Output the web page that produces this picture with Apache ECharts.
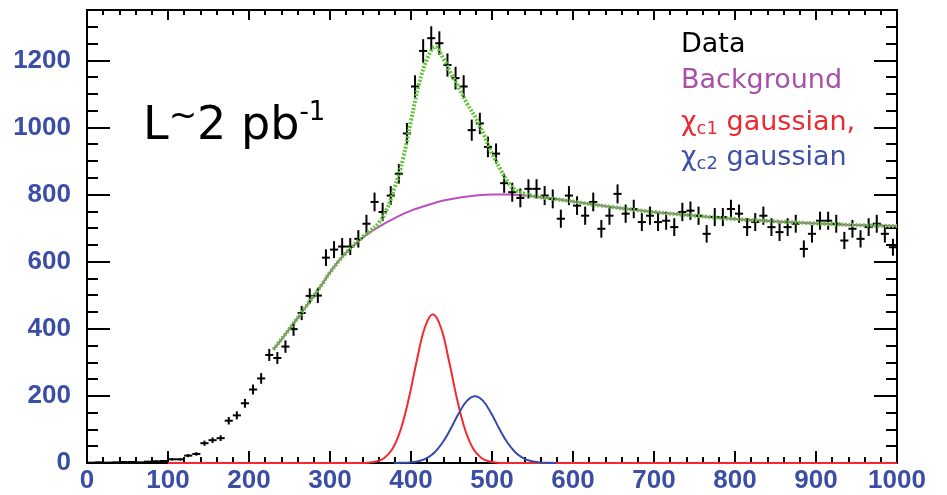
<!DOCTYPE html>
<html>
<head>
<meta charset="utf-8">
<script src="https://cdn.jsdelivr.net/npm/echarts@6/dist/echarts.min.js"></script>
<style>html,body{margin:0;padding:0;background:#fff;}#c{width:947px;height:495px;}</style>
</head>
<body>
<div id="c"></div>
<script>
// ---- data ----
var binCenters = [5,15,25,35,45,55,65,75,85,95,105,115,125,135,145,155,165,175,185,195,
  205,215,225,235,245,255,265,275,285,295,305,315,325,335,345,355,365,375,385,395,
  405,415,425,435,445,455,465,475,485,495,505,515,525,535,545,555,565,575,585,595,
  605,615,625,635,645,655,665,675,685,695,705,715,725,735,745,755,765,775,785,795,
  805,815,825,835,845,855,865,875,885,895,905,915,925,935,945,955,965,975,985,995];
var counts = [1,2,1,2,3,3,2,4,5,6,
  11,11,22,27,59,68,74,126,142,178,
  219,252,322,313,347,399,447,498,499,612,
  636,645,645,668,713,778,748,797,862,982,
  1122,1228,1266,1251,1186,1147,1122,992,1012,942,
  922,834,807,790,817,817,797,787,728,797,
  767,737,778,698,737,802,743,757,718,737,
  718,722,703,748,752,737,683,733,733,757,
  743,703,718,737,703,688,703,713,638,683,
  722,722,713,663,698,668,703,713,683,643];
var binHalfWidth = 5;

var bgX = [230,240,250,260,270,280,290,300,310,320,330,340,350,360,380,400,420,440,460,480,500,520,540,560,580,600,650,700,750,800,850,900,950,1000];
var bgY = [338,368,400,432,465,498,532,568,600,627,650,671,688,704,730,752,768,782,791,797,800,800,797,792,786,779,762,748,737,727,720,714,709,706];

var totX = [230,250,270,290,300,320,340,350,360,370,380,390,400,410,420,430,440,450,460,470,480,490,500,510,520,530,540,550,560,580,600,650,700,750,800,850,900,950,1000];
var totY = [338,400,465,532,568,627,673,692,715,755,822,905,1020,1130,1205,1240,1205,1158,1114,1068,1028,978,922,877,835,812,803,796,792,786,779,762,748,737,727,720,714,709,706];

var c1X = [100,327,337,347,357,367,377,387,397,407,417,427,437,447,457,467,477,487,497,507,517,527,1000];
var c1Y = [0,0,0.2,1.0,4.3,14.8,41.7,97.7,189,303,403,443,403,303,189,97.7,41.7,14.8,4.3,1.0,0.2,0,0];

var c2X = [379,389,399,409,419,429,439,449,459,469,479,489,499,509,519,529,539,549,559,569,579];
var c2Y = [0.1,0.5,1.8,5.3,13.9,31.4,61,102,148,185,199,185,148,102,61,31.4,13.9,5.3,1.8,0.5,0.1];

var xTicks = {min:0, max:1000, interval:100};
var yTicks = {min:0, max:1350, interval:200, minorInterval:50};

// ---- build ----
function pairs(xs, ys){ var o=[]; for(var i=0;i<xs.length;i++) o.push([xs[i], ys[i]]); return o; }
var dataPts = [];
for (var i=0;i<binCenters.length;i++) dataPts.push([binCenters[i], counts[i], Math.sqrt(counts[i])]);

var labBlue = '#3b4ea6';
var chart = echarts.init(document.getElementById('c'));

function xAx(pos, show, majLen, minLen){
  return {type:'value', position:pos, min:xTicks.min, max:xTicks.max, interval:xTicks.interval,
    axisLine:{show:true, onZero:false, lineStyle:{color:'#000', width:2}},
    axisTick:{show:true, inside:true, length:majLen, lineStyle:{color:'#000', width:2}},
    minorTick:{show:true, splitNumber:5, length:minLen, lineStyle:{color:'#000', width:2}},
    splitLine:{show:false}, minorSplitLine:{show:false},
    axisLabel:{show:show, margin:5, color:labBlue, fontSize:26, fontWeight:'bold', fontFamily:'Liberation Sans',
      formatter:function(v){ return String(v); }}};
}
function yAx(pos, show, interval, len, line){
  return {type:'value', position:pos, min:yTicks.min, max:yTicks.max, interval:interval,
    axisLine:{show:line, onZero:false, lineStyle:{color:'#000', width:2}},
    axisTick:{show:true, inside:true, length:len, lineStyle:{color:'#000', width:2}},
    splitLine:{show:false},
    axisLabel:{show:show, margin:16, color:labBlue, fontSize:26, fontWeight:'bold', fontFamily:'Liberation Sans',
      formatter:function(v){ return (v % 200 === 0) ? String(v) : ''; }}};
}

var option = {
  backgroundColor:'#fff',
  animation:false,
  grid:{left:87, right:50, top:10, bottom:32},
  xAxis:[xAx('bottom', true, 12, 6), xAx('top', false, 10, 5)],
  yAxis:[yAx('left', true, yTicks.interval, 23, true), yAx('right', false, yTicks.interval, 23, true),
         yAx('left', false, yTicks.minorInterval, 11, false), yAx('right', false, yTicks.minorInterval, 11, false)],
  series:[
    {name:'Background', type:'line', data:pairs(bgX,bgY), smooth:0.4, showSymbol:false, clip:false, z:3,
      lineStyle:{color:'#bb4fbb', width:2}},
    {name:'chi_c1', type:'line', data:pairs(c1X,c1Y), smooth:0.4, showSymbol:false, clip:false, z:3,
      lineStyle:{color:'#f5282d', width:2}},
    {name:'chi_c2', type:'line', data:pairs(c2X,c2Y), smooth:0.4, showSymbol:false, clip:false, z:3,
      lineStyle:{color:'#3448a8', width:2}},
    {name:'Data', type:'custom', data:dataPts, encode:{x:0, y:1}, z:4,
      renderItem:function(params, api){
        var x = api.value(0), y = api.value(1), e = api.value(2);
        var c = api.coord([x, y]);
        var t = api.coord([x, y + e]);
        var b = api.coord([x, Math.max(0, y - e)]);
        var l = api.coord([x - binHalfWidth, y]);
        var r = api.coord([x + binHalfWidth, y]);
        return {type:'group', children:[
          {type:'line', shape:{x1:c[0], y1:t[1], x2:c[0], y2:b[1]}, style:{stroke:'#000', lineWidth:2}},
          {type:'line', shape:{x1:l[0], y1:c[1], x2:r[0], y2:c[1]}, style:{stroke:'#000', lineWidth:2}}
        ]};
      }},
    {name:'Total fit', type:'line', data:pairs(totX,totY), smooth:0.4, showSymbol:false, clip:false, z:5,
      lineStyle:{color:'#62c43a', width:4, type:[2,1.6]}}
  ],
  graphic:[
    {type:'text', left:143, top:100, z:10, style:{
      text:'{m|L}{t|~}{m|2 pb}{s|-1}',
      rich:{
        m:{fontSize:46, fontFamily:'DejaVu Sans', fill:'#000', lineHeight:54},
        t:{fontSize:34, fontFamily:'DejaVu Sans', fill:'#000', verticalAlign:'top', lineHeight:26},
        s:{fontSize:26, fontFamily:'DejaVu Sans', fill:'#000', verticalAlign:'top', lineHeight:34}
      }}},
    {type:'text', left:681, top:31, z:10, style:{text:'Data', fontSize:27, fontFamily:'DejaVu Sans', fill:'#000'}},
    {type:'text', left:681, top:67, z:10, style:{text:'Background', fontSize:27, fontFamily:'DejaVu Sans', fill:'#a850a8'}},
    {type:'text', left:681, top:109, z:10, style:{
      text:'{a|χ}{s|c1}{a| gaussian,}',
      rich:{a:{fontSize:27, fontFamily:'DejaVu Sans', fill:'#ec2832', lineHeight:32},
            s:{fontSize:18, fontFamily:'DejaVu Sans', fill:'#ec2832', verticalAlign:'bottom', lineHeight:30}}}},
    {type:'text', left:681, top:144, z:10, style:{
      text:'{a|χ}{s|c2}{a| gaussian}',
      rich:{a:{fontSize:27, fontFamily:'DejaVu Sans', fill:'#3e50a8', lineHeight:32},
            s:{fontSize:18, fontFamily:'DejaVu Sans', fill:'#3e50a8', verticalAlign:'bottom', lineHeight:30}}}}
  ]
};
chart.setOption(option);
</script>
</body>
</html>
